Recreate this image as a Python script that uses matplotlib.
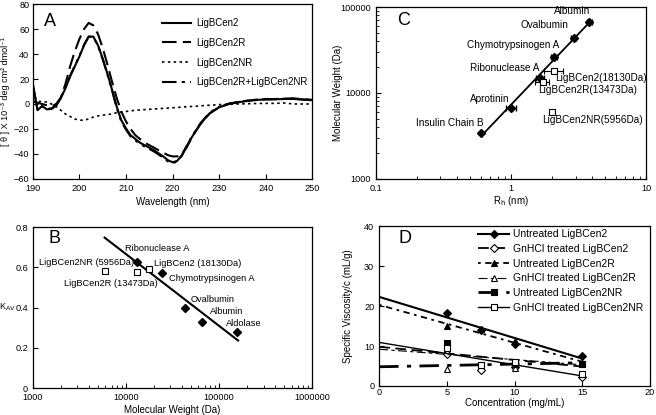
import numpy as np
import matplotlib
matplotlib.use('Agg')
import matplotlib.pyplot as plt

plt.rcParams['font.family'] = ['Liberation Sans', 'DejaVu Sans']
plt.rcParams['font.size'] = 7
plt.rcParams['xtick.labelsize'] = 6.6
plt.rcParams['ytick.labelsize'] = 6.6
plt.rcParams['xtick.direction'] = 'in'
plt.rcParams['ytick.direction'] = 'in'
plt.rcParams['axes.linewidth'] = 0.9

# ---- panel A : CD spectra ----
wl = [190, 191, 192, 193, 194, 195, 196, 197, 198, 199, 200, 201, 202, 203, 204, 205,
      206, 207, 208, 209, 210, 211, 212, 213, 214, 215, 216, 217, 218, 219, 220, 221,
      222, 223, 224, 225, 226, 227, 228, 229, 230, 232, 234, 236, 238, 240, 242, 244,
      246, 248, 250]
cd_cen2 = [16.5, -5, -1.6, -4.3, -4, -1.6, 4.5, 12.5, 22, 30, 38, 47, 54, 54, 47, 36.5,
           24.5, 11.7, -2, -13, -19.5, -25, -28, -31, -33, -35, -37, -39.5, -42, -45, -46.7, -45.6,
           -41, -34, -27.5, -21.6, -16, -11.5, -7.5, -5, -2.7, 0, 1.3, 2.4, 3.2, 3.7, 3.7, 4,
           4, 3.5, 3.2]
cd_cen2r = [2, 1, 0, -1, -2, 0, 5, 16, 30, 42, 52, 60, 65, 63, 56, 45,
            32, 18, 5, -6, -14, -20, -25, -28, -31, -33, -35, -37, -39, -41, -42, -42,
            -40, -35, -28, -21.6, -16, -11.5, -7.5, -5, -2.7, 0, 1.5, 2.6, 3.4, 3.9, 4.0, 4.3,
            4.5, 3.8, 3.3]
cd_cen2nr = [2, 2, 2, 1.5, 0, -2, -5, -8, -10, -12, -13, -13, -12, -10.5, -9.5, -9,
             -8.5, -8, -7, -6.5, -6, -5.5, -5, -4.8, -4.5, -4.3, -4, -3.8, -3.5, -3.3, -3, -2.8,
             -2.5, -2.2, -2, -1.8, -1.5, -1.2, -1, -0.8, -0.5, -0.3, 0, 0.2, 0.4, 0.5, 0.5, 0.8,
             0, 0, 0]
cd_mix = [15, -4, -2, -4, -3.5, -1, 5, 13, 22.5, 30.5, 38.5, 47.5, 54, 53.5, 46.5, 36,
          24, 11, -3, -14, -20.5, -26, -29, -32, -34, -36, -38, -40.5, -43, -46, -47.5, -46,
          -41.5, -34, -27, -21, -15.5, -11, -7, -4.5, -2.3, 0.2, 1.5, 2.6, 3.4, 3.8, 3.9, 4.2,
          4.3, 3.6, 3.0]

# ---- panel C : hydrodynamic radius ----
std_names_c = ['Insulin Chain B', 'Aprotinin', 'Ribonuclease A', 'Chymotrypsinogen A',
               'Ovalbumin', 'Albumin']
std_rh = [0.6, 1.0, 1.64, 2.08, 2.92, 3.8]
std_mw_c = [3400, 6700, 15000, 26000, 44000, 67000]
std_rh_err = [0.0, 0.08, 0.12, 0.1, 0.12, 0.15]
smp_names_c = ['LigBCen2(18130Da)', 'LigBCen2R(13473Da)', 'LigBCen2NR(5956Da)']
smp_rh = [2.09, 1.71, 2.0]
smp_mw = [18130, 13473, 5956]
smp_rh_err = [0.33, 0.2, 0.0]

# ---- panel B : gel filtration ----
std_names_b = ['Ribonuclease A', 'Chymotrypsinogen A', 'Ovalbumin', 'Albumin', 'Aldolase']
std_mw_b = [13100, 24400, 43000, 66200, 156000]
std_kav = [0.628, 0.571, 0.398, 0.328, 0.278]
smp_names_b = ['LigBCen2NR (5956Da)', 'LigBCen2R (13473Da)', 'LigBCen2 (18130Da)']
smp_mw_b = [5900, 13100, 17500]
smp_kav = [0.583, 0.576, 0.593]

# ---- panel D : viscosity ----
unt_cen2_x = [5, 7.5, 10, 15]
unt_cen2_y = [18.2, 14.0, 10.6, 7.6]
gn_cen2_x = [5, 7.5, 10, 15]
gn_cen2_y = [8.0, 4.0, 4.8, 2.2]
unt_cen2r_x = [5, 7.5, 10, 15]
unt_cen2r_y = [15.1, 14.2, 11.3, 5.8]
gn_cen2r_x = [5, 10]
gn_cen2r_y = [4.2, 4.5]
unt_nr_x = [5, 10, 15]
unt_nr_y = [10.8, 5.6, 5.6]
gn_nr_x = [5, 7.5, 10, 15]
gn_nr_y = [9.6, 5.2, 6.1, 3.0]
# linear fits (intercept, slope)
fit_intercept = [22.3, 9.8, 20.3, 9.2, 4.8, 10.9]
fit_slope = [-1.03, -0.33, -0.95, -0.26, 0.067, -0.56]

fig = plt.figure(figsize=(6.56, 4.15), dpi=100)

# ================= A =================
ax = fig.add_axes([0.050, 0.569, 0.426, 0.421])
ax.plot(wl, cd_cen2, color='black', lw=1.5, ls='-', label='LigBCen2')
ax.plot(wl, cd_cen2r, color='black', lw=1.5, ls=(0, (7, 3)), label='LigBCen2R')
ax.plot(wl, cd_cen2nr, color='black', lw=1.2, ls=(0, (1.5, 2)), label='LigBCen2NR')
ax.plot(wl, cd_mix, color='black', lw=1.5, ls=(0, (7, 2.5, 1.5, 2.5, 1.5, 2.5)),
        label='LigBCen2R+LigBCen2NR')
ax.set_xlim(190, 250)
ax.set_ylim(-60, 80)
ax.set_xticks(range(190, 251, 10))
ax.set_yticks(range(-60, 81, 20))
ax.tick_params(axis='y', pad=2.5)
ax.set_xlabel('Wavelength (nm)')
ax.set_ylabel('[ θ ] X 10⁻³ deg cm² dmol⁻¹', fontsize=6.5)
ax.xaxis.set_label_coords(0.5, -0.105)
ax.yaxis.set_label_coords(-0.083, 0.5)
ax.text(0.04, 0.90, 'A', transform=ax.transAxes, fontsize=13, va='center')
ax.legend(loc='upper left', bbox_to_anchor=(0.43, 0.97), frameon=False, fontsize=7,
          handlelength=3.0, labelspacing=1.0, handletextpad=0.6)

# ================= C =================
ax = fig.add_axes([0.573, 0.569, 0.412, 0.414])
ax.set_xscale('log')
ax.set_yscale('log')
fit_c = np.polyfit(np.log10(std_rh), np.log10(std_mw_c), 1)
xr = np.array([min(std_rh), max(std_rh)])
ax.plot(xr, 10 ** np.polyval(fit_c, np.log10(xr)), color='black', lw=1.3)
ax.errorbar(std_rh, std_mw_c, xerr=std_rh_err, fmt='D', color='black', ms=4,
            capsize=2, elinewidth=0.8)
ax.errorbar(smp_rh, smp_mw, xerr=smp_rh_err, fmt='s', mfc='white', mec='black',
            color='black', ms=4.5, capsize=2, elinewidth=0.8, mew=0.8)
ax.set_xlim(0.1, 10)
ax.set_ylim(1000, 100000)
ax.set_xticks([0.1, 1, 10])
ax.set_xticklabels(['0.1', '1', '10'])
ax.set_yticks([1000, 10000, 100000])
ax.set_yticklabels(['1000', '10000', '100000'])
ax.set_xlabel(r'R$_{\rm h}$ (nm)')
ax.set_ylabel('Molecular Weight (Da)')
ax.xaxis.set_label_coords(0.5, -0.087)
ax.yaxis.set_label_coords(-0.122, 0.5)
ax.text(0.08, 0.92, 'C', transform=ax.transAxes, fontsize=13, va='center')
lab_c = [(0.354, 4490, 'center'), (0.69, 8600, 'center'), (0.90, 19500, 'center'),
         (1.03, 35700, 'center'), (1.78, 61000, 'center'), (2.81, 91000, 'center')]
for name, (tx, ty, ha) in zip(std_names_c, lab_c):
    ax.text(tx, ty, name, ha=ha, va='center', fontsize=7.2)
lab_cs = [(2.11, 14900), (1.60, 10740), (1.71, 4820)]
for name, (tx, ty) in zip(smp_names_c, lab_cs):
    ax.text(tx, ty, name, ha='left', va='center', fontsize=7.2)

# ================= B =================
ax = fig.add_axes([0.050, 0.065, 0.426, 0.388])
ax.set_xscale('log')
fit_b = np.polyfit(np.log10(std_mw_b), std_kav, 1)
xb = np.array([5900, 160000])
ax.plot(xb, np.polyval(fit_b, np.log10(xb)), color='black', lw=1.5)
ax.plot(std_mw_b, std_kav, 'D', color='black', ms=4)
ax.plot(smp_mw_b, smp_kav, 's', mfc='white', mec='black', ms=5, mew=0.8)
ax.set_xlim(1000, 1000000)
ax.set_ylim(0, 0.8)
ax.set_xticks([1000, 10000, 100000, 1000000])
ax.set_xticklabels(['1000', '10000', '100000', '1000000'])
ax.set_yticks([0, 0.2, 0.4, 0.6, 0.8])
ax.set_yticklabels(['0', '0.2', '0.4', '0.6', '0.8'])
ax.set_xlabel('Molecular Weight (Da)')
ax.set_ylabel(r'K$_{\rm AV}$', rotation=0, ha='center', va='center', fontsize=6.5)
ax.xaxis.set_label_coords(0.5, -0.105)
ax.yaxis.set_label_coords(-0.09, 0.5)
ax.text(0.055, 0.93, 'B', transform=ax.transAxes, fontsize=13, va='center')
lab_b = [(21500, 0.692, 'center'), (29000, 0.543, 'left'), (49200, 0.442, 'left'),
         (80700, 0.378, 'left'), (120000, 0.323, 'left')]
for name, (tx, ty, ha) in zip(std_names_b, lab_b):
    ax.text(tx, ty, name, ha=ha, va='center', fontsize=6.7)
lab_bs = [(12300, 0.622, 'right'), (2150, 0.518, 'left'), (19800, 0.618, 'left')]
for name, (tx, ty, ha) in zip(smp_names_b, lab_bs):
    ax.text(tx, ty, name, ha=ha, va='center', fontsize=6.7)

# ================= D =================
ax = fig.add_axes([0.578, 0.070, 0.413, 0.385])
series = [
    (unt_cen2_x, unt_cen2_y, 'Untreated LigBCen2', '-', 1.5, 'D', 'black'),
    (gn_cen2_x, gn_cen2_y, 'GnHCl treated LigBCen2', (0, (6, 3)), 1.3, 'D', 'white'),
    (unt_cen2r_x, unt_cen2r_y, 'Untreated LigBCen2R', (0, (1.5, 2.5, 3.5, 2.5)), 1.3, '^', 'black'),
    (gn_cen2r_x, gn_cen2r_y, 'GnHCl treated LigBCen2R', (0, (8, 3, 3, 3)), 0.8, '^', 'white'),
    (unt_nr_x, unt_nr_y, 'Untreated LigBCen2NR', (0, (7, 3, 1.5, 3)), 2.0, 's', 'black'),
    (gn_nr_x, gn_nr_y, 'GnHCl treated LigBCen2NR', '-', 1.0, 's', 'white'),
]
xd = np.array([0, 15])
for (sx, sy, name, ls, lw, mk, fc), b0, b1 in zip(series, fit_intercept, fit_slope):
    ax.plot(xd, b0 + b1 * xd, color='black', ls=ls, lw=lw)
    ax.plot(sx, sy, mk, mfc=fc, mec='black', ms=4.5, mew=0.8, ls='none')
    ax.plot([], [], color='black', ls=ls, lw=lw, marker=mk, mfc=fc, mec='black',
            ms=4, mew=0.8, label=name)
ax.set_xlim(0, 20)
ax.set_ylim(0, 40)
ax.set_xticks([0, 5, 10, 15, 20])
ax.set_yticks([0, 10, 20, 30, 40])
ax.tick_params(axis='x', pad=1.5)
ax.set_xlabel('Concentration (mg/mL)')
ax.set_ylabel('Specific Viscosity/c (mL/g)')
ax.xaxis.set_label_coords(0.5, -0.075)
ax.yaxis.set_label_coords(-0.096, 0.5)
ax.text(0.07, 0.92, 'D', transform=ax.transAxes, fontsize=13, va='center')
ax.legend(loc='upper left', bbox_to_anchor=(0.33, 1.04), frameon=False, fontsize=7.5,
          handlelength=3.0, labelspacing=0.45, handletextpad=0.4, numpoints=1)

fig.savefig('out.png', dpi=100)
